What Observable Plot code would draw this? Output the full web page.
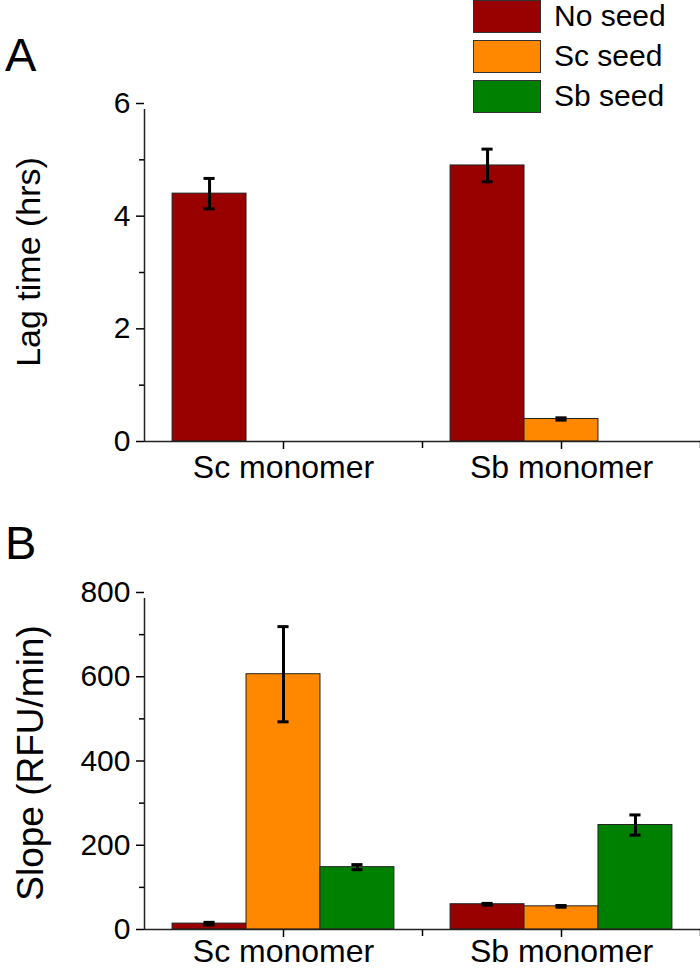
<!DOCTYPE html>
<html><head><meta charset="utf-8">
<script src="https://cdn.jsdelivr.net/npm/d3@7"></script>
<script src="https://cdn.jsdelivr.net/npm/@observablehq/plot@0.6"></script>
<style>
body{margin:0;background:#fff;font-family:"Liberation Sans",Arial,sans-serif;}
#root{position:relative;width:700px;height:969px;overflow:hidden;background:#fff}
.panel{position:absolute;left:0}
.tag{position:absolute;left:5px;font-size:47px;line-height:1;color:#000}
.ytitle{position:absolute;white-space:nowrap;line-height:1;color:#000;transform:translate(-50%,-50%) rotate(-90deg)}
#legend{position:absolute;left:473px;top:0px}
.row{position:relative;height:40px}
.sw{position:absolute;left:0;top:0;width:66px;height:31px;border:1.5px solid #333}
.lt{position:absolute;left:81px;top:0px;font-size:30px;line-height:32px;color:#000;white-space:nowrap}
</style></head><body><div id="root"></div>
<script>
const FONT = '"Liberation Sans", Arial, sans-serif';
const monomers = ["Sc monomer", "Sb monomer"];
const seeds = ["No seed", "Sc seed", "Sb seed"];
const seedColors = ["#990000", "#ff8800", "#008000"];

// Panel A: lag time (hrs), values per monomer [Sc monomer, Sb monomer]
const lagNoSeed = [4.40, 4.90];
const lagNoSeedErr = [0.27, 0.29];
const lagScSeed = [0, 0.40];
const lagScSeedErr = [0, 0.02];
const lagSbSeed = [0, 0];
const lagSbSeedErr = [0, 0];
const lagTicks = [0, 2, 4, 6];
const lagMinorTicks = [1, 3, 5];

// Panel B: slope (RFU/min)
const slopeNoSeed = [14, 60];
const slopeNoSeedErr = [3, 2];
const slopeScSeed = [606, 55];
const slopeScSeedErr = [113, 2];
const slopeSbSeed = [148, 248];
const slopeSbSeedErr = [6, 24];
const slopeTicks = [0, 200, 400, 600, 800];
const slopeMinorTicks = [100, 300, 500, 700];

const BW = 0.266;   // bar width as a fraction of the category step
const CAP = 0.02;   // half-width of error caps, same units

function rowsOf(vals, errs) {
  const out = [];
  seeds.forEach((s, i) => monomers.forEach((m, j) => out.push({
    monomer: m, seed: s, value: vals[i][j], err: errs[i][j], pos: j + (i - 1) * BW
  })));
  return out.filter(d => d.value > 0);
}

function panel(rows, {ticks, minor, height, marginTop, marginBottom, labelPad}) {
  const yMax = ticks[ticks.length - 1];
  return Plot.plot({
    width: 700, height, marginLeft: 144, marginRight: 0, marginTop, marginBottom,
    style: {fontFamily: FONT, fontSize: "30px", color: "#000", background: "transparent", overflow: "visible"},
    x: {domain: [-0.5, monomers.length - 0.5], label: null},
    y: {domain: [ticks[0], yMax], label: null},
    color: {domain: seeds, range: seedColors},
    marks: [
      Plot.rectY(rows, {x1: d => d.pos - BW / 2, x2: d => d.pos + BW / 2, y1: 0, y2: "value", fill: "seed", stroke: "#222", strokeWidth: 1}),
      Plot.ruleX(rows, {x: "pos", y1: d => d.value - d.err, y2: d => d.value + d.err, stroke: "#000", strokeWidth: 3}),
      Plot.ruleY(rows, {y: d => d.value + d.err, x1: d => d.pos - CAP, x2: d => d.pos + CAP, stroke: "#000", strokeWidth: 3}),
      Plot.ruleY(rows, {y: d => d.value - d.err, x1: d => d.pos - CAP, x2: d => d.pos + CAP, stroke: "#000", strokeWidth: 3}),
      Plot.ruleY([0], {stroke: "#222", strokeWidth: 1.5}),
      Plot.ruleX([-0.5], {y1: ticks[0], y2: yMax, insetBottom: -6, stroke: "#222", strokeWidth: 1.5}),
      Plot.axisY({ticks, tickSize: 8, tickPadding: 6, fontSize: 30, strokeWidth: 1.5, tickFormat: d => String(d), label: null}),
      Plot.axisY({ticks: minor, tickSize: 5, tickFormat: () => "", strokeWidth: 1.5, label: null}),
      Plot.axisX({ticks: d3.range(monomers.length), tickSize: 8, tickPadding: labelPad, fontSize: 32, strokeWidth: 1.5, tickFormat: i => monomers[i], label: null}),
      Plot.axisX({ticks: d3.range(monomers.length).map(i => i + 0.5), tickSize: 7, tickFormat: () => "", strokeWidth: 1.5, label: null})
    ]
  });
}

const root = document.getElementById("root");

const lagRows = rowsOf([lagNoSeed, lagScSeed, lagSbSeed], [lagNoSeedErr, lagScSeedErr, lagSbSeedErr]);
const slopeRows = rowsOf([slopeNoSeed, slopeScSeed, slopeSbSeed], [slopeNoSeedErr, slopeScSeedErr, slopeSbSeedErr]);

const a = panel(lagRows, {ticks: lagTicks, minor: lagMinorTicks, height: 500, marginTop: 103, marginBottom: 59, labelPad: 6});
a.classList.add("panel"); a.style.top = "0px";
root.appendChild(a);

const b = panel(slopeRows, {ticks: slopeTicks, minor: slopeMinorTicks, height: 469, marginTop: 92, marginBottom: 40, labelPad: 2});
b.classList.add("panel"); b.style.top = "500px";
root.appendChild(b);

// y-axis titles
[["Lag time (hrs)", 28, 262, 34], ["Slope (RFU/min)", 30, 763, 37]].forEach(([t, x, y, fs]) => {
  const d = document.createElement("div");
  d.className = "ytitle"; d.textContent = t;
  d.style.left = x + "px"; d.style.top = y + "px"; d.style.fontSize = fs + "px";
  root.appendChild(d);
});

// panel tags
[["A", 31], ["B", 519]].forEach(([t, top]) => {
  const d = document.createElement("div");
  d.className = "tag"; d.textContent = t; d.style.top = top + "px";
  root.appendChild(d);
});

// legend
const lg = document.createElement("div");
lg.id = "legend";
seeds.forEach((s, i) => {
  const r = document.createElement("div"); r.className = "row";
  const sw = document.createElement("div"); sw.className = "sw"; sw.style.background = seedColors[i];
  const t = document.createElement("div"); t.className = "lt"; t.textContent = s;
  r.appendChild(sw); r.appendChild(t); lg.appendChild(r);
});
root.appendChild(lg);
</script></body></html>
